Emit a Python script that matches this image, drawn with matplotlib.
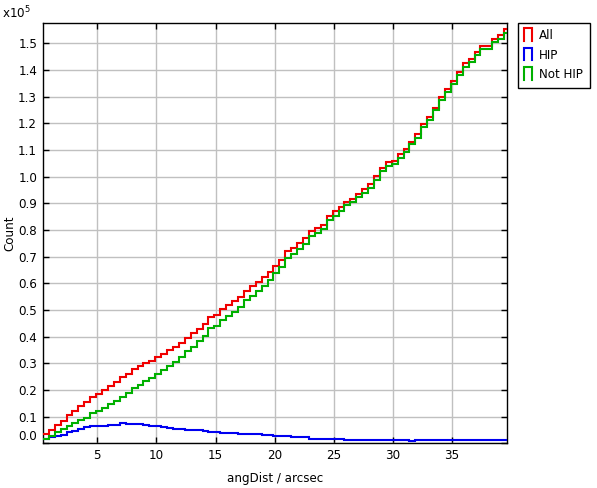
import numpy as np
import matplotlib
matplotlib.use("Agg")
import matplotlib.pyplot as plt
from matplotlib.lines import Line2D
from matplotlib.legend_handler import HandlerBase
from matplotlib.ticker import FuncFormatter

plt.rcParams["font.family"] = "DejaVu Sans"
plt.rcParams["font.size"] = 8.6

# Histogram of angDist, bin width 0.5 arcsec starting at 0.4
bin_start = 0.4
bin_width = 0.5

count_all = [3400, 4900, 6900, 8400, 10600, 12100, 14000, 15500, 17500, 18500,
             20000, 21500, 22800, 24900, 25900, 27800, 28900, 30100, 31000, 32400,
             33500, 34900, 36000, 37600, 39600, 41200, 43000, 44700, 47400, 48000,
             50300, 51800, 53200, 54800, 57200, 58800, 60300, 62200, 64200, 66500,
             68800, 72000, 73200, 75100, 77100, 79600, 80700, 81900, 85300, 87000,
             88600, 90500, 91600, 93600, 95300, 97100, 100100, 103400, 105400, 105900,
             108400, 110400, 113100, 115900, 119600, 122400, 125900, 129800, 133000, 136000,
             139200, 142500, 144000, 146800, 148800, 148800, 151500, 153000, 155300]

count_hip = [1700, 2300, 2600, 3100, 4100, 4600, 5200, 6000, 6300, 6400,
             6600, 6700, 6800, 7500, 7200, 7200, 7100, 6800, 6500, 6400,
             6100, 5800, 5500, 5400, 5100, 5000, 4800, 4500, 4300, 4100,
             4000, 3900, 3800, 3600, 3500, 3400, 3300, 3100, 3000, 2800,
             2800, 2700, 2300, 2300, 2200, 1700, 1700, 1700, 1700, 1600,
             1600, 1300, 1300, 1300, 1300, 1300, 1300, 1300, 1300, 1300,
             1300, 1300, 1000, 1300, 1100, 1100, 1100, 1100, 1100, 1100,
             1100, 1300, 1100, 1100, 1100, 1100, 1100, 1300, 1300]

count_nothip = [1700, 2600, 4300, 5300, 6500, 7500, 8800, 9500, 11200, 12100,
                13400, 14800, 16000, 17400, 18700, 20600, 21800, 23300, 24500, 26000,
                27400, 29100, 30500, 32200, 34500, 36200, 38200, 40200, 43100, 43900,
                46300, 47900, 49400, 51200, 53700, 55400, 57000, 59100, 61200, 63700,
                66000, 69300, 70900, 72800, 74900, 77900, 79000, 80200, 83600, 85400,
                87000, 89200, 90300, 92300, 94000, 95800, 98800, 102100, 104100, 104600,
                107100, 109100, 112100, 114600, 118500, 121300, 124800, 128700, 131900, 134900,
                138100, 141200, 142900, 145700, 147700, 147700, 150400, 151700, 154000]

labels = ["All", "HIP", "Not HIP"]
colors = ["#f00000", "#0000f0", "#00b000"]

edges = bin_start + bin_width * np.arange(len(count_all) + 1)


class HistIcon(HandlerBase):
    def create_artists(self, legend, orig_handle, xdescent, ydescent,
                       width, height, fontsize, trans):
        x0 = -xdescent
        y0 = -ydescent - 1
        x1 = x0 + width
        y1 = y0 + height + 3
        line = Line2D([x0, x0, x1, x1], [y0, y1, y1, y0],
                      color=orig_handle.get_color(), linewidth=1.5,
                      solid_joinstyle="miter", transform=trans)
        return [line]


fig = plt.figure(figsize=(5.97, 4.88), dpi=100)
ax = fig.add_axes([0.0715, 0.0916, 0.7772, 0.8619])

handles = []
for data, lab, col in zip([count_all, count_hip, count_nothip], labels, colors):
    ax.stairs(np.array(data), edges, baseline=None, color=col, linewidth=1.5,
              zorder=3)
    handles.append(Line2D([], [], color=col, label=lab))

ax.set_xlim(0.38, 39.62)
ax.set_ylim(0, 157700)
ax.set_xticks([5, 10, 15, 20, 25, 30, 35])
ax.set_yticks(np.arange(0, 150001, 10000))
ax.yaxis.set_major_formatter(FuncFormatter(lambda v, p: "%.1f" % (v / 1e5)))
ax.grid(True, color="#c0c0c0", linewidth=1.0, zorder=0)
ax.set_axisbelow(True)
for s in ax.spines.values():
    s.set_linewidth(1.0)
ax.tick_params("both", direction="in", length=4, width=1.0, color="black",
               top=True, right=True, labelsize=8.6, pad=4)
ax.yaxis.get_major_ticks()[0].label1.set_verticalalignment("bottom")

ax.set_xlabel("angDist / arcsec", labelpad=7)
ax.set_ylabel("Count")
ax.yaxis.set_label_coords(-0.056, 0.5)
fig.text(0.004, 0.962, r"x10$^5$", fontsize=8.6, ha="left", va="baseline")

fig.legend(handles=handles, loc="upper left",
           bbox_to_anchor=(517.7 / 597, 1 - 22.7 / 488),
           handler_map={Line2D: HistIcon()}, handlelength=0.65,
           handleheight=0.7, handletextpad=0.6, labelspacing=0.55,
           borderpad=0.55, borderaxespad=0, fancybox=False,
           edgecolor="black", framealpha=1, fontsize=8.6)
fig.legends[0].get_frame().set_linewidth(1.0)

plt.savefig("out.png", dpi=100)
